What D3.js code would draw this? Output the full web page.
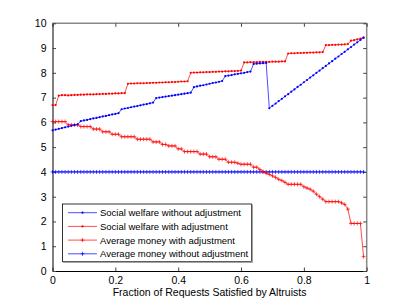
<!DOCTYPE html>
<html>
<head>
<meta charset="utf-8">
<script src="https://cdn.jsdelivr.net/npm/d3@7"></script>
<style>
  body { margin: 0; background: #fff; }
  text { font-family: "Liberation Sans", Arial, sans-serif; }
</style>
</head>
<body>
<svg id="canvas" width="405" height="305"></svg>
<script>
// x positions: fraction of requests satisfied, 0 .. 0.99
let fractions = d3.range(100).map(i => i / 100);

let welfareWithout = [
  5.68, 5.71, 5.74, 5.77, 5.80, 5.83, 5.86, 5.89, 5.92,
  6.05, 6.08, 6.10, 6.13, 6.16, 6.18, 6.21, 6.24, 6.26, 6.29, 6.32, 6.34, 6.37,
  6.53, 6.56, 6.58, 6.61, 6.64, 6.66, 6.69, 6.72, 6.74, 6.77, 6.80,
  6.98, 7.00, 7.02, 7.04, 7.06, 7.08, 7.10, 7.12, 7.14, 7.16, 7.18, 7.20,
  7.42, 7.45, 7.48, 7.50, 7.53, 7.56, 7.59, 7.61, 7.64, 7.67,
  7.87, 7.89, 7.91, 7.94, 7.96, 7.98, 8.00, 8.03, 8.05,
  8.36, 8.37, 8.38, 8.39, 8.40,
  6.57, 6.67, 6.76, 6.86, 6.95, 7.05, 7.14, 7.24, 7.33, 7.43, 7.52, 7.62, 7.71,
  7.81, 7.90, 8.00, 8.09, 8.19, 8.28, 8.38, 8.47, 8.57, 8.66, 8.76, 8.85, 8.95,
  9.04, 9.14, 9.23, 9.33, 9.42
];

let welfareWith = [
  6.70, 6.70, 7.08, 7.10, 7.10, 7.09, 7.10, 7.11, 7.11, 7.12, 7.12, 7.13,
  7.13, 7.13, 7.14, 7.14, 7.15, 7.15, 7.16, 7.16, 7.17, 7.17, 7.18, 7.18,
  7.56, 7.57, 7.57, 7.58, 7.58, 7.58, 7.59, 7.59, 7.60, 7.60, 7.61, 7.61,
  7.62, 7.62, 7.63, 7.63, 7.64, 7.65, 7.65, 7.66,
  8.00, 8.01, 8.01, 8.02, 8.02, 8.03, 8.03, 8.04, 8.04, 8.05, 8.05, 8.06,
  8.06, 8.07, 8.07, 8.08, 8.09,
  8.42, 8.42, 8.43, 8.43, 8.43, 8.44, 8.44, 8.44, 8.44, 8.45, 8.45, 8.45, 8.46, 8.46,
  8.78, 8.79, 8.79, 8.80, 8.80, 8.81, 8.81, 8.82, 8.82, 8.83, 8.83, 8.84,
  9.12, 9.12, 9.13, 9.13, 9.14, 9.14, 9.15, 9.16,
  9.30, 9.32, 9.35, 9.38, 9.42
];

let moneyWith = [
  6.03, 6.03, 6.03, 6.03, 6.03, 5.90, 5.90, 5.90, 5.90,
  5.83, 5.83, 5.83, 5.83, 5.73, 5.73, 5.73, 5.62, 5.62, 5.62,
  5.52, 5.52, 5.52, 5.42, 5.42, 5.42, 5.42, 5.42,
  5.32, 5.32, 5.32, 5.32, 5.32, 5.21, 5.21, 5.21, 5.11, 5.11,
  5.05, 5.05, 5.05, 4.93, 4.93, 4.82, 4.82, 4.82, 4.82, 4.82,
  4.72, 4.72, 4.72, 4.61, 4.61, 4.61, 4.51, 4.51, 4.51,
  4.39, 4.39, 4.39, 4.35, 4.31, 4.31, 4.31, 4.31, 4.19, 4.19,
  4.10, 4.01, 3.95, 3.90, 3.84, 3.78, 3.70, 3.65, 3.58,
  3.50, 3.50, 3.50, 3.50, 3.50, 3.40, 3.35, 3.30, 3.22, 3.10, 3.00, 2.90,
  2.80, 2.80, 2.80, 2.80, 2.80, 2.75, 2.69, 2.50,
  1.92, 1.92, 1.92, 1.92, 0.58
];

let moneyWithout = fractions.map(() => 4);

let legendLabels = [
  "Social welfare without adjustment",
  "Social welfare with adjustment",
  "Average money with adjustment",
  "Average money without adjustment"
];

let xTicks = [0, 0.2, 0.4, 0.6, 0.8, 1];
let yTicks = [0, 1, 2, 3, 4, 5, 6, 7, 8, 9, 10];

let series = [
  { values: welfareWithout, color: "#0000ff", marker: "dot" },
  { values: welfareWith, color: "#ff0000", marker: "dot" },
  { values: moneyWith, color: "#ff0000", marker: "plus" },
  { values: moneyWithout, color: "#0000ff", marker: "plus" }
];

let canvas = d3.select("#canvas");
let plotLeft = 52.5, plotRight = 366.7, plotTop = 23.3, plotBottom = 271;

let xScale = d3.scaleLinear().domain([0, 1]).range([plotLeft, plotRight]);
let yScale = d3.scaleLinear().domain([0, 10]).range([plotBottom, plotTop]);

// box: top and right in grey like the matlab export
canvas.append("line")
  .attr("x1", plotLeft).attr("x2", plotRight).attr("y1", plotTop).attr("y2", plotTop)
  .attr("stroke", "#888").attr("stroke-width", 1.5);
canvas.append("line")
  .attr("x1", plotRight).attr("x2", plotRight).attr("y1", plotTop).attr("y2", plotBottom)
  .attr("stroke", "#888").attr("stroke-width", 1.5);

canvas.append("g")
  .attr("transform", `translate(0,${plotBottom})`)
  .call(d3.axisBottom(xScale).tickValues(xTicks).tickFormat(d3.format("~g"))
    .tickSizeInner(-3.5).tickSizeOuter(0).tickPadding(6));
canvas.append("g")
  .attr("transform", `translate(0,${plotTop})`)
  .call(d3.axisTop(xScale).tickValues(xTicks).tickFormat("")
    .tickSizeInner(-3.5).tickSizeOuter(0))
  .select(".domain").remove();

canvas.append("g")
  .attr("transform", `translate(${plotLeft},0)`)
  .call(d3.axisLeft(yScale).tickValues(yTicks)
    .tickSizeInner(-3.5).tickSizeOuter(0).tickPadding(6));
canvas.append("g")
  .attr("transform", `translate(${plotRight},0)`)
  .call(d3.axisRight(yScale).tickValues(yTicks).tickFormat("")
    .tickSizeInner(-3.5).tickSizeOuter(0))
  .select(".domain").remove();

canvas.selectAll(".tick text")
  .attr("font-size", 10.5)
  .attr("font-family", "Liberation Sans, Arial, sans-serif")
  .attr("fill", "#000");
canvas.selectAll(".tick line").attr("stroke", "#444");

canvas.append("text")
  .attr("x", (plotLeft + plotRight) / 2)
  .attr("y", 296)
  .attr("text-anchor", "middle")
  .attr("font-size", 10.5)
  .text("Fraction of Requests Satisfied by Altruists");

let line = d3.line()
  .x((d, i) => xScale(fractions[i]))
  .y(d => yScale(d));

let drawMarkers = (g, pts, s) => {
  if (s.marker === "dot") {
    g.selectAll("circle").data(pts).enter().append("circle")
      .attr("cx", d => d[0]).attr("cy", d => d[1])
      .attr("r", 1.1).attr("fill", s.color);
  } else {
    g.selectAll("path.m").data(pts).enter().append("path")
      .attr("class", "m")
      .attr("d", d => `M${d[0] - 2},${d[1]}h4M${d[0]},${d[1] - 2}v4`)
      .attr("stroke", s.color).attr("stroke-width", 0.7).attr("fill", "none");
  }
};

series.slice().reverse().forEach(s => {
  let g = canvas.append("g");
  g.append("path")
    .attr("d", line(s.values))
    .attr("fill", "none")
    .attr("stroke", s.color)
    .attr("stroke-width", 0.7);
  let pts = s.values.map((v, i) => [xScale(fractions[i]), yScale(v)]);
  drawMarkers(g, pts, s);
});

// legend
let lg = canvas.append("g");
lg.append("rect")
  .attr("x", 62.5).attr("y", 204).attr("width", 189).attr("height", 57.5)
  .attr("fill", "#fff").attr("stroke", "#000").attr("stroke-width", 0.8);
lg.append("path")
  .attr("d", "M63,262.2H252.2V204.5")
  .attr("fill", "none").attr("stroke", "#888").attr("stroke-width", 1.2);

legendLabels.forEach((label, i) => {
  let s = series[i];
  let yy = 212.7 + i * 13.7;
  let row = lg.append("g");
  row.append("line")
    .attr("x1", 68).attr("x2", 97).attr("y1", yy).attr("y2", yy)
    .attr("stroke", s.color).attr("stroke-width", 0.7);
  drawMarkers(row, [[82.5, yy]], s);
  row.append("text")
    .attr("x", 100).attr("y", yy + 3.5)
    .attr("font-size", 9.5)
    .text(label);
});
</script>
</body>
</html>
